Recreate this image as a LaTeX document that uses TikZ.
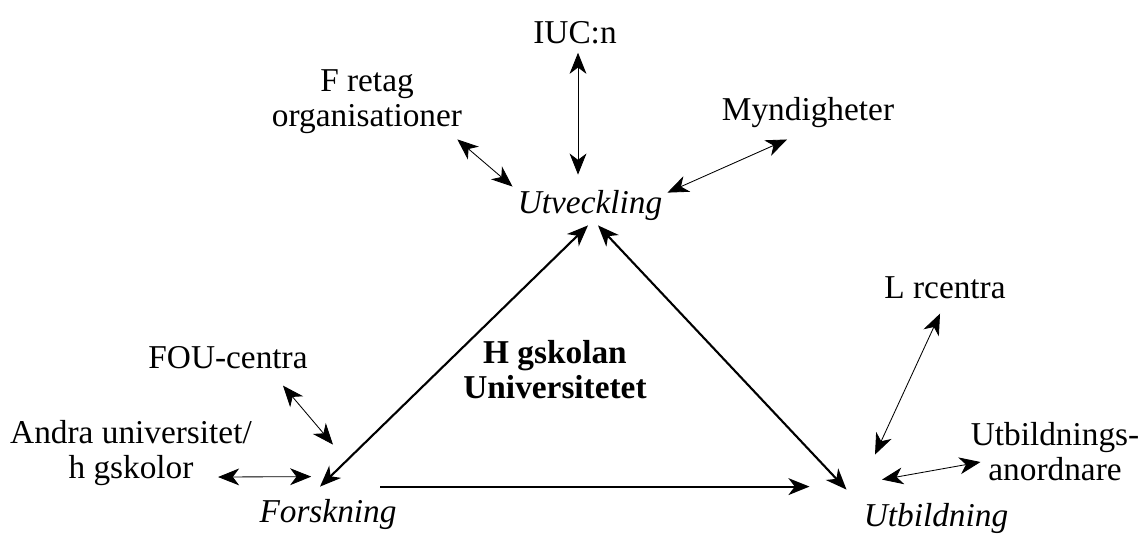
\documentclass[tikz,border=0pt]{standalone}
\usepackage{fontspec}
\setmainfont{Liberation Serif}
\usetikzlibrary{arrows.meta, calc}

\begin{document}
\begin{tikzpicture}[
    x=0.025cm, y=-0.025cm,
    >={Stealth[length=15pt, width=12pt, inset=4.5pt]},
    lbl/.style={
        inner sep=0pt,
        align=center,
        font=\fontsize{23.7}{25}\selectfont,
    },
    mainarrow/.style={black, line width=1.5pt},
    linkarrow/.style={black, line width=0.6pt},
]
\useasboundingbox (0,0) rectangle (1141,535);

% =============================================
% CORNERS OF THE TRIANGLE
% =============================================
\node[lbl, anchor=base] (utv) at (590,213) {\itshape Utveckling};
\node[lbl, anchor=base] (forsk) at (328,522) {\itshape Forskning};
\node[lbl, anchor=base] (utb) at (936,526) {\itshape Utbildning};

% Centre label
\node[lbl] (hogsk) at (555,370) {\bfseries H gskolan\\\bfseries Universitetet};

% =============================================
% PARTNERS AROUND THE CORNERS
% =============================================
\node[lbl, anchor=base] (iuc) at (575,43) {IUC:n};
\node[lbl] (foretag) at (367,102) {F retag\\organisationer};
\node[lbl, anchor=base] (mynd) at (808,120) {Myndigheter};
\node[lbl, anchor=base] (fou) at (228,368) {FOU-centra};
\node[lbl] (andra) at (131,453) {Andra universitet/\\h gskolor};
\node[lbl, anchor=base] (larc) at (945,298) {L rcentra};
\node[lbl] (utbanord) at (1055,452) {Utbildnings-\\anordnare};

% =============================================
% TRIANGLE ARROWS
% =============================================
\draw[mainarrow, <->] ($(forsk.north)+(-8,-12)$) -- ($(utv.south)+(-2,5)$);
\draw[mainarrow, <->] ($(utv.south)+(8,5)$) -- ($(utb.north west)+(-17,-13)$);
\draw[mainarrow, ->] ($(forsk.north)+(52,-12)$) -- ($(utb.north west)+(-54,-16)$);

% =============================================
% THIN TWO-WAY LINKS
% =============================================
\draw[linkarrow, <->] ($(iuc.south)+(3,9)$) -- ($(utv.north)+(-12,-15)$);
\draw[linkarrow, <->] ($(foretag.south east)+(-5,5)$) -- ($(utv.north west)+(-5,-3)$);
\draw[linkarrow, <->] ($(mynd.south)+(-21,12)$) -- ($(utv.north east)+(5,3)$);
\draw[linkarrow, <->] ($(fou.south)+(55,17)$) -- ($(forsk.north)+(5,-54)$);
\draw[linkarrow, <->] ($(andra.south east)+(-34,-9)$) -- ($(forsk.north west)+(52,-22)$);
\draw[linkarrow, <->] ($(larc.south)+(-5,15)$) -- ($(utb.north)+(-61,-48)$);
\draw[linkarrow, <->] ($(utbanord.west)+(10,10)$) -- ($(utb.north)+(-54,-23)$);

\end{tikzpicture}
\end{document}
